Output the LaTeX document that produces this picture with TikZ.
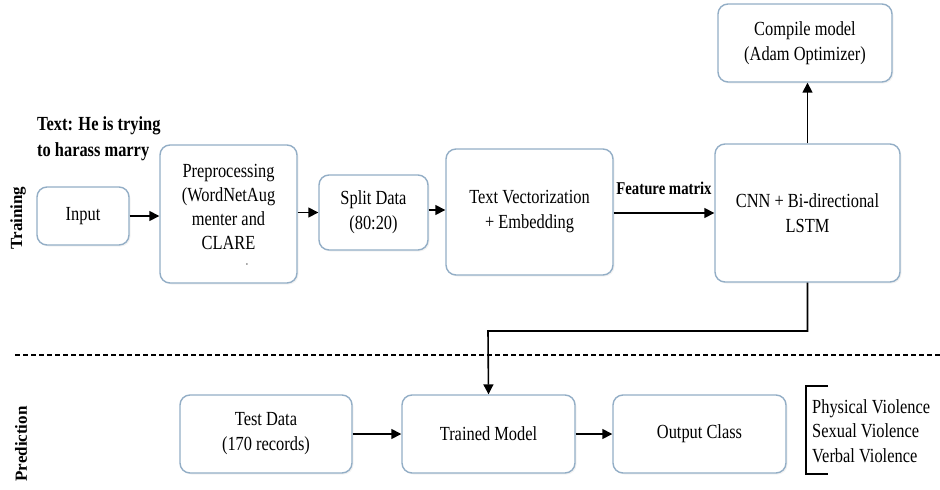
\documentclass[tikz,border=0pt]{standalone}
\usepackage{fontspec}
\setmainfont{Liberation Serif}[FakeStretch=0.82]
\newfontfamily\sidefont{Liberation Serif}
\usetikzlibrary{arrows.meta,shadows}
\definecolor{boxline}{HTML}{93AEC6}
\tikzset{
  box/.style={draw=boxline, line width=1.4pt, rounded corners=10pt, fill=white, align=center,
    font=\fontsize{20}{25}\selectfont, inner sep=0pt,
    drop shadow={opacity=0.10, shadow xshift=1.5pt, shadow yshift=-1.5pt}},
  arr/.style={-{Triangle[length=10pt,width=10pt]}, line width=1.6pt},
  lbl/.style={font=\bfseries\fontsize{20}{26}\selectfont, inner sep=0pt},
  side/.style={font=\sidefont\bfseries\fontsize{17}{20}\selectfont, inner sep=0pt, rotate=90},
  plain/.style={font=\fontsize{20}{24.5}\selectfont, inner sep=0pt, align=left},
}
\begin{document}
\begin{tikzpicture}[x=1pt,y=-1pt]
\useasboundingbox (0,0) rectangle (940,490);
% training boxes
\node[box, minimum width=92pt, minimum height=58pt] (input) at (83,216) {Input};
\node[box, minimum width=137pt, minimum height=138pt] (prep) at (228.5,214) {};
\node[align=center, font=\fontsize{20}{24}\selectfont, inner sep=0pt, anchor=base] (preptext) at (228.5,249) {Preprocessing\\(WordNetAug\\menter and\\CLARE};
\node[inner sep=0pt, font=\fontsize{12}{12}\selectfont] (prepdot) at (247,265) {$\cdot$};
\node[box, minimum width=109pt, minimum height=75pt] (split) at (373.5,212.5) {Split Data\\(80:20)};
\node[box, minimum width=167pt, minimum height=126pt] (vec) at (529.5,212) {Text Vectorization\\+ Embedding};
\node[box, minimum width=185pt, minimum height=138pt] (cnn) at (807.5,213) {CNN + Bi-directional\\LSTM};
\node[box, minimum width=174pt, minimum height=78pt] (comp) at (805,43) {Compile model\\(Adam Optimizer)};
% prediction boxes
\node[box, minimum width=172pt, minimum height=78pt] (test) at (266,434) {Test Data\\(170 records)};
\node[box, minimum width=173pt, minimum height=78pt] (trained) at (488.5,434) {Trained Model};
\node[box, minimum width=173pt, minimum height=78pt] (out) at (699.5,434) {Output Class};
% labels
\node[lbl, anchor=west, align=left] (txt) at (37,139) {Text: He is trying\\to harass marry};
\node[side] (train) at (18,218) {Training};
\node[side] (pred) at (21,444) {Prediction};
% arrows
\draw[arr] (input.east) -- (prep.west |- input.east);
\draw[arr] (prep.east |- split.west) -- (split.west);
\draw[arr] (split.east |- 0,210) -- (vec.west |- 0,210);
\draw[arr] (vec.east |- 0,213) -- (cnn.west |- 0,213) node[lbl, font=\bfseries\fontsize{18}{20}\selectfont, midway, above=17pt] (fm) {Feature matrix};
\draw[arr] (cnn.north) -- (comp.south -| cnn.north);
\coordinate (bend1) at (cnn.south |- 0,331);
\coordinate (bend2) at (488,331);
\draw[arr] (cnn.south) -- (bend1) -- (bend2) -- (trained.north);
\draw[arr] (test.east) -- (trained.west);
\draw[arr] (trained.east) -- (out.west);
% dashed separator
\coordinate (d1) at (15,355);
\coordinate (d2) at (940,355);
\draw[line width=1.2pt, dash pattern=on 5pt off 3pt] (d1) -- (d2);
% output classes
\coordinate (b1) at (828,386);
\coordinate (b2) at (828,474);
\draw[line width=1.3pt] (b1) -- (806,386) -- (806,474) -- (b2);
\node[plain, anchor=west] (cls) at (812,431) {Physical Violence\\Sexual Violence\\Verbal Violence};
\end{tikzpicture}
\end{document}
